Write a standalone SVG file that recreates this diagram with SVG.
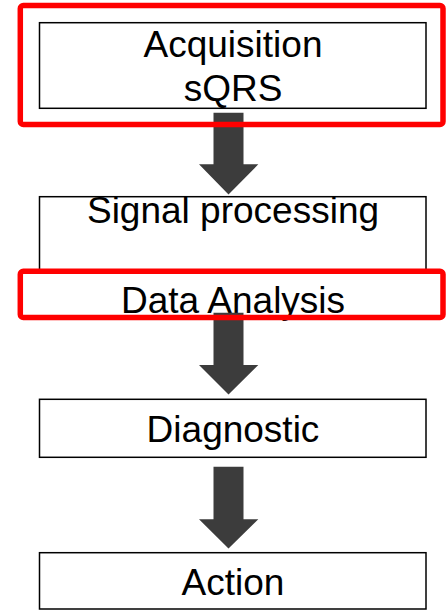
<svg xmlns="http://www.w3.org/2000/svg" width="446" height="610" viewBox="0 0 446 610">
<style>
.box{fill:#fff;stroke:#000;stroke-width:1.5}
.hl{fill:none;stroke:#ff0000;stroke-width:5.5}
.arr{fill:#3c3c3c}
text{font-family:"Liberation Sans",Arial,sans-serif;font-size:37px;fill:#000;text-anchor:middle}
</style>
<rect width="446" height="610" fill="#fff"/>
<g id="n1"><rect class="box" x="39.5" y="22.7" width="386.5" height="85.6"/><text x="233" y="57">Acquisition</text><text x="233" y="101">sQRS</text></g>
<g id="n2"><rect class="box" x="39.5" y="196.7" width="386.5" height="74.5"/><text x="233" y="222.5">Signal processing</text></g>
<g id="n3"><text x="233" y="313.3">Data Analysis</text></g>
<g id="n4"><rect class="box" x="39.5" y="399.3" width="386.5" height="58"/><text x="233" y="441.7">Diagnostic</text></g>
<g id="n5"><rect class="box" x="39.5" y="552.7" width="386.5" height="56.3"/><text x="233" y="595">Action</text></g>
<g id="connectors">
<path class="arr" d="M213.5 112.7H243.5V164.3H258.3L228.5 194.5L199 164.3H213.5Z"/>
<path class="arr" d="M213.5 312.7H243.5V365H258.3L228.5 394.5L199 365H213.5Z"/>
<path class="arr" d="M213.5 466.7H243.5V519.3H258.3L228.5 548.5L199 519.3H213.5Z"/>
</g>
<g id="highlights">
<rect class="hl" x="20.3" y="5.5" width="422.7" height="119" rx="3"/>
<rect class="hl" x="20.3" y="271.3" width="422.7" height="46.2" rx="3"/>
</g>
</svg>
